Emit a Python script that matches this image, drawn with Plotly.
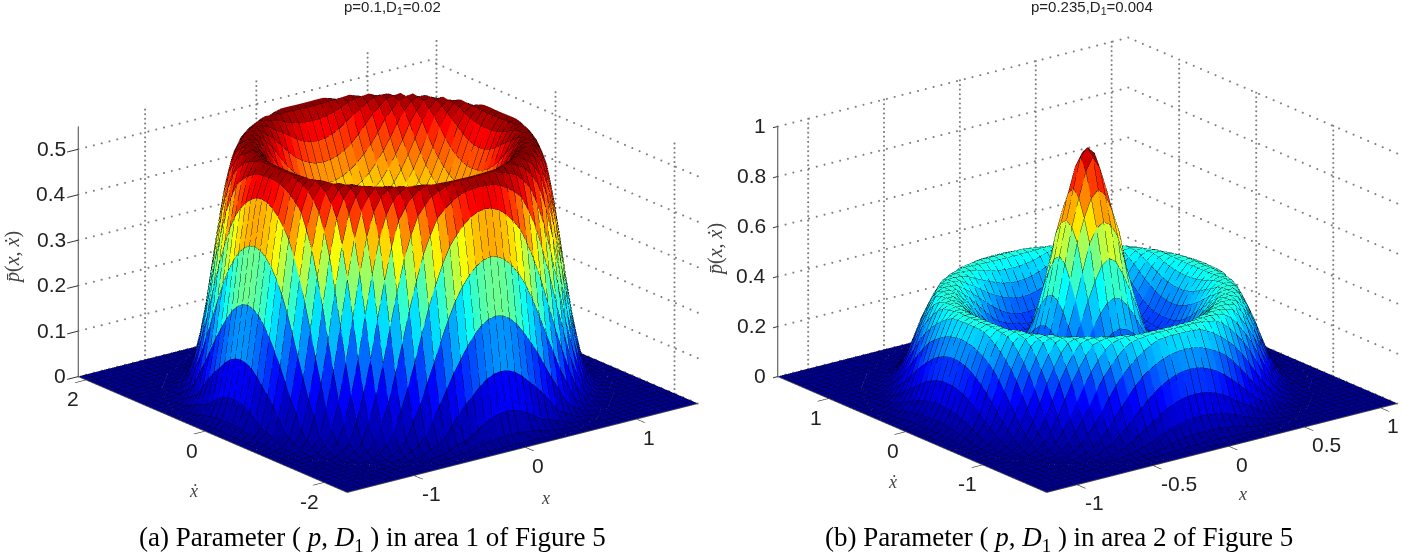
import numpy as np
import plotly.graph_objects as go

# Ranges, ticks and radial height profiles.
# R = distance from the box centre as a fraction of the half box side.
XRANGE_A = [-1.6, 1.55]
YRANGE_A = [-2.39, 2.13]
ZRANGE_A = [0, 0.55]
XTICKS_A = [-1, 0, 1]
YTICKS_A = [-2, 0, 2]
ZTICKS_A = [0, 0.1, 0.2, 0.3, 0.4, 0.5]
R_A = [0, .1, .2, .3, .4, .44, .5, .55, .6, .65, .686, .72, .75, .786, .82, .855, .9, .95, 1.0, 1.5]
Z_A = [.20, .21, .24, .30, .37, .40, .46, .515, .545, .55, .53, .49, .42, .31, .20, .11, .03, .005, 0, 0]

XRANGE_B = [-1.2, 1.11]
YRANGE_B = [-1.83, 1.66]
ZRANGE_B = [0, 1]
XTICKS_B = [-1, -0.5, 0, 0.5, 1]
YTICKS_B = [-1, 0, 1]
ZTICKS_B = [0, 0.2, 0.4, 0.6, 0.8, 1]
R_B = [0, .04, .08, .12, .144, .18, .22, .26, .3, .35, .4, .45, .5, .55, .6, .65, .69, .72, .76, .8, .84, .88, .92, .96, 1.0, 1.5]
Z_B = [.97, .94, .82, .70, .63, .48, .35, .25, .19, .17, .18, .22, .29, .35, .39, .395, .38, .33, .26, .17, .09, .04, .01, .002, 0, 0]

CELLS = 50
JET = [(0, 0, 143), (0, 0, 255), (0, 255, 255), (255, 255, 0), (255, 0, 0), (128, 0, 0)]
JET_POS = [0, 0.125, 0.375, 0.625, 0.875, 1]

az = np.radians(37.5)
el = np.radians(19.3)
EYE_D = 2.0
EYE_U = np.array([-np.sin(az) * np.cos(el), -np.cos(az) * np.cos(el), np.sin(el)])
ASPECT_XY = 1.667
ASPECT_Z = 1.0
LIFT = 0.012
DOTS_X_WALL, DOTS_Y_WALL, DOTS_VERTICAL = 46, 38, 55


def jet_hex(t):
    c = [np.interp(t, JET_POS, [j[k] for j in JET]) for k in range(3)]
    return "#%02x%02x%02x" % tuple(int(round(v)) for v in c)


def panel(fig, scene, xr, yr, zr, xt, yt, zt, rr, zz):
    u = np.linspace(-1, 1, CELLS + 1)
    U, V = np.meshgrid(u, u, indexing="ij")
    Z = np.interp(np.hypot(U, V), rr, zz)
    xs = (xr[0] + xr[1]) / 2 + u * (xr[1] - xr[0]) / 2
    ys = (yr[0] + yr[1]) / 2 + u * (yr[1] - yr[0]) / 2
    X, Y = np.meshgrid(xs, ys, indexing="ij")
    n = CELLS + 1
    idx = lambda i, j: i * n + j
    I, J, K, FC = [], [], [], []
    zmax = Z.max()
    for i in range(CELLS):
        for j in range(CELLS):
            col = jet_hex(Z[i, j] / zmax)
            I += [idx(i, j), idx(i, j)]
            J += [idx(i + 1, j), idx(i + 1, j + 1)]
            K += [idx(i + 1, j + 1), idx(i, j + 1)]
            FC += [col, col]
    fig.add_trace(go.Mesh3d(
        x=X.ravel(), y=Y.ravel(), z=Z.ravel(), i=I, j=J, k=K, facecolor=FC,
        flatshading=True, lighting=dict(ambient=1, diffuse=0, specular=0, fresnel=0),
        hoverinfo="skip", scene=scene, showscale=False))
    # mesh lines, nudged a hair toward the viewer so they sit in front of the facets
    dx = LIFT * EYE_U[0] * (xr[1] - xr[0]) / ASPECT_XY
    dy = LIFT * EYE_U[1] * (yr[1] - yr[0]) / ASPECT_XY
    dz = LIFT * EYE_U[2] * (zr[1] - zr[0]) / ASPECT_Z
    LX, LY, LZ = X + dx, Y + dy, Z + dz
    lx, ly, lz = [], [], []
    for i in range(n):
        lx += list(LX[i, :]) + [None]; ly += list(LY[i, :]) + [None]; lz += list(LZ[i, :]) + [None]
        lx += list(LX[:, i]) + [None]; ly += list(LY[:, i]) + [None]; lz += list(LZ[:, i]) + [None]
    fig.add_trace(go.Scatter3d(x=lx, y=ly, z=lz, mode="lines",
                               line=dict(color="rgba(0,0,0,0.75)", width=1),
                               hoverinfo="skip", showlegend=False, scene=scene))
    # dotted grid on the two back walls, drawn as fine dots along each grid line
    gx, gy, gz = [], [], []
    zv = np.linspace(zr[0], zr[1], DOTS_VERTICAL)
    xv = np.linspace(xr[0], xr[1], DOTS_X_WALL)
    yv = np.linspace(yr[0], yr[1], DOTS_Y_WALL)
    for t in xt:
        gx += [t] * len(zv); gy += [yr[1]] * len(zv); gz += list(zv)
    for t in yt:
        gx += [xr[1]] * len(zv); gy += [t] * len(zv); gz += list(zv)
    for t in zt:
        gx += list(xv); gy += [yr[1]] * len(xv); gz += [t] * len(xv)
        gx += [xr[1]] * len(yv); gy += list(yv); gz += [t] * len(yv)
    fig.add_trace(go.Scatter3d(x=gx, y=gy, z=gz, mode="markers",
                               marker=dict(color="#808080", size=1.2, line=dict(width=0)),
                               hoverinfo="skip", showlegend=False, scene=scene))


fig = go.Figure()
panel(fig, "scene", XRANGE_A, YRANGE_A, ZRANGE_A, XTICKS_A, YTICKS_A, ZTICKS_A, R_A, Z_A)
panel(fig, "scene2", XRANGE_B, YRANGE_B, ZRANGE_B, XTICKS_B, YTICKS_B, ZTICKS_B, R_B, Z_B)

TICKFONT = dict(family="Liberation Sans", size=21, color="#222222")


def axis(rng, ticks):
    return dict(range=rng, tickvals=ticks, showticklabels=True,
                tickfont=dict(size=10, color="rgba(0,0,0,0)"),
                showgrid=False, showbackground=False, zeroline=False, showspikes=False,
                showline=True, linecolor="#444444", linewidth=2,
                ticks="outside", ticklen=14, tickcolor="#333333", tickwidth=2, title=dict(text=""))


def fmt(t):
    return "%g" % t


def tick_notes(xr, yr, zr, xt, yt, zt):
    out = []
    inset = (yr[1] - yr[0]) * 1e-4
    for t in xt:
        s = fmt(t)
        out.append(dict(x=t, y=yr[0] + inset, z=0, text=s, showarrow=False, font=TICKFONT,
                        xshift=13 + 4.5 * (len(s) - 1), yshift=-18))
    for t in yt:
        s = fmt(t)
        out.append(dict(x=xr[0], y=t, z=0, text=s, showarrow=False, font=TICKFONT,
                        xshift=-13 - 2 * (len(s) - 1), yshift=-19))
    for t in zt:
        s = fmt(t)
        out.append(dict(x=xr[0], y=yr[1], z=t, text=s, showarrow=False, font=TICKFONT,
                        xanchor="right", xshift=-10, yshift=1))
    return out


eye = dict(x=EYE_D * EYE_U[0], y=EYE_D * EYE_U[1], z=EYE_D * EYE_U[2])
cam = dict(eye=eye, up=dict(x=0, y=0, z=1), center=dict(x=0, y=0, z=0), projection=dict(type="orthographic"))
W, H = 1402, 552


def scene(dom, xr, yr, zr, xt, yt, zt):
    return dict(domain=dict(x=[dom[0] / W, dom[1] / W], y=[22 / H, 1]),
                xaxis=axis(xr, xt), yaxis=axis(yr, yt), zaxis=axis(zr, zt),
                aspectmode="manual", aspectratio=dict(x=ASPECT_XY, y=ASPECT_XY, z=ASPECT_Z), camera=cam,
                bgcolor="white", annotations=tick_notes(xr, yr, zr, xt, yt, zt))


def note(x, y, text, size=13, family="Liberation Sans", color="#222222", angle=0):
    return dict(x=x / W, y=1 - y / H, xref="paper", yref="paper", text=text, showarrow=False,
                xanchor="center", yanchor="middle", textangle=angle,
                font=dict(family=family, size=size, color=color))


SERIF = "Liberation Serif"
ann = [
    note(392, 8, "p=0.1,D<sub>1</sub>=0.02", size=15),
    note(1092, 8, "p=0.235,D<sub>1</sub>=0.004", size=15),
    note(372, 539, "(a) Parameter ( <i>p</i>, <i>D</i><sub>1</sub> ) in area 1 of Figure 5", size=27, family=SERIF, color="black"),
    note(1059, 539, "(b) Parameter ( <i>p</i>, <i>D</i><sub>1</sub> ) in area 2 of Figure 5", size=27, family=SERIF, color="black"),
    note(12, 258, "<i>p̄</i>(<i>x</i>, <i>ẋ</i>)", size=20, family=SERIF, color="#444444", angle=-90),
    note(715, 250, "<i>p̄</i>(<i>x</i>, <i>ẋ</i>)", size=20, family=SERIF, color="#444444", angle=-90),
    note(193, 491, "<i>ẋ</i>", size=18, family=SERIF, color="#444444"),
    note(545, 498, "<i>x</i>", size=18, family=SERIF, color="#444444"),
    note(892, 482, "<i>ẋ</i>", size=18, family=SERIF, color="#444444"),
    note(1242, 494, "<i>x</i>", size=18, family=SERIF, color="#444444"),
]

fig.update_layout(
    width=W, height=H, autosize=False, margin=dict(l=0, r=0, t=0, b=0),
    paper_bgcolor="white", showlegend=False,
    scene=scene((0, 776), XRANGE_A, YRANGE_A, ZRANGE_A, XTICKS_A, YTICKS_A, ZTICKS_A),
    scene2=scene((773, 1402), XRANGE_B, YRANGE_B, ZRANGE_B, XTICKS_B, YTICKS_B, ZTICKS_B),
    annotations=ann,
)
fig.write_html("out.html", config=dict(displayModeBar=False),
               post_script="document.body.style.margin='0';document.documentElement.style.overflow='hidden';")
